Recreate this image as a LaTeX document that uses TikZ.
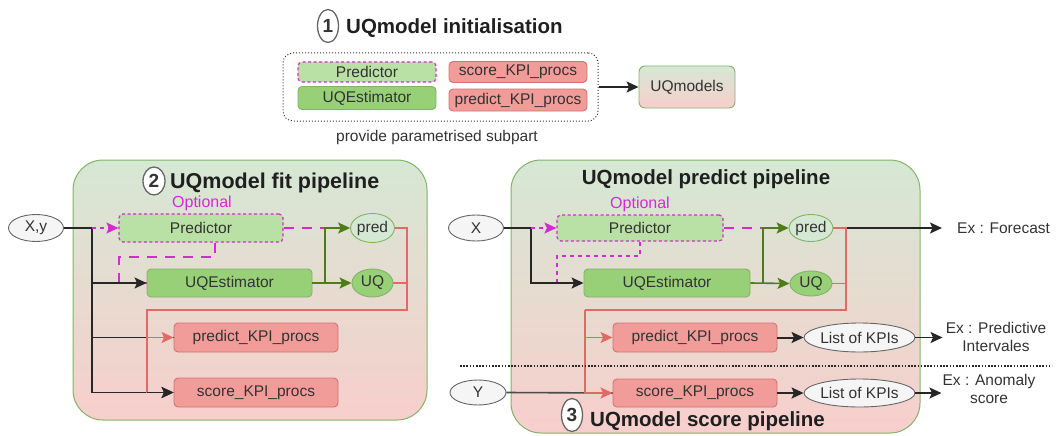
\documentclass[tikz,border=0pt]{standalone}
\usepackage{fontspec}
\setmainfont{Liberation Sans}
\usetikzlibrary{arrows.meta,shapes.geometric}

\definecolor{gfill}{HTML}{D5E8D4}
\definecolor{gline}{HTML}{82B366}
\definecolor{rfill}{HTML}{F8CECC}
\definecolor{kfill}{HTML}{F19C99}
\definecolor{kline}{HTML}{D47272}
\definecolor{pfill}{HTML}{B9E0A5}
\definecolor{ufill}{HTML}{97D077}
\definecolor{mag}{HTML}{D42AD4}
\definecolor{ofill}{HTML}{F5F5F5}
\definecolor{oline}{HTML}{666666}
\definecolor{txt}{HTML}{333333}
\definecolor{dgreen}{HTML}{4D7C19}
\definecolor{rline}{HTML}{E06A66}

\begin{document}
\begin{tikzpicture}[x=1pt,y=-1pt,
  nodefont/.style={font=\fontsize{15.5pt}{18pt}\selectfont},
  lbl/.style={nodefont, text=txt, inner sep=0pt},
  ttl/.style={font=\fontsize{20.5pt}{24pt}\selectfont\bfseries, text=black!88, inner sep=0pt},
  blockbase/.style={rectangle, rounded corners=4pt, line width=0.9pt, inner sep=0pt, nodefont, text=txt},
  predictorbox/.style={blockbase, fill=pfill, draw=mag, dash pattern=on 3pt off 2.5pt, line width=1.2pt},
  estbox/.style={blockbase, fill=ufill, draw=gline},
  kpibox/.style={blockbase, fill=kfill, draw=kline},
  oval/.style={ellipse, inner sep=0pt, line width=0.9pt, nodefont, text=txt},
  inoval/.style={oval, fill=ofill, draw=oline},
  predoval/.style={oval, fill=gfill, draw=gline},
  uqoval/.style={oval, fill=ufill, draw=gline},
  pipe/.style={rectangle, rounded corners=30pt, draw=gline, line width=1pt, top color=gfill, bottom color=rfill, inner sep=0pt},
  num/.style={ellipse, draw=oline, line width=1.3pt, fill=white, inner sep=0pt, font=\fontsize{19pt}{22pt}\selectfont\bfseries, text=black!80},
  arrowtip/.style={-{Stealth[length=12pt,width=11pt,inset=2.5pt]}},
  blk/.style={draw=black!85, line width=1.6pt},
  grn/.style={draw=dgreen, line width=1.6pt},
  redl/.style={draw=rline, line width=1.3pt},
  magshort/.style={draw=mag, line width=1.6pt, dash pattern=on 4pt off 4pt},
  maglong/.style={draw=mag, line width=1.6pt, dash pattern=on 10pt off 8pt},
  sep/.style={draw=black!85, line width=2pt, dash pattern=on 1.6pt off 1.6pt},
]
\useasboundingbox (0,0) rectangle (1057,436);

% ---------- initialisation ----------
\node[num, minimum width=21, minimum height=33] (n1) at (328,26) {1};
\node[ttl, anchor=west] (t1) at (346,28) {UQmodel initialisation};
\node[draw=black!80, dotted, line width=1pt, rounded corners=10pt,
      minimum width=315, minimum height=68] (initbox) at (440.5,87) {};
\node[predictorbox, minimum width=138, minimum height=20] (iPred) at (367,72) {Predictor};
\node[estbox, minimum width=138, minimum height=23] (iUQE) at (367,98) {UQEstimator};
\node[kpibox, minimum width=138, minimum height=21] (iScore) at (518,72) {score\_KPI\_procs};
\node[kpibox, minimum width=138, minimum height=22] (iPKPI) at (518,100) {predict\_KPI\_procs};
\node[blockbase, rounded corners=6pt, draw=gline, top color=gfill, bottom color=rfill,
      minimum width=96, minimum height=42] (uqm) at (687,87) {UQmodels};
\draw[blk, arrowtip] (initbox.east) -- (uqm.west);
\node[lbl] (sub) at (437,137) {provide parametrised subpart};

% ---------- fit pipeline ----------
\node[pipe, minimum width=354, minimum height=260] (fitbox) at (250,290) {};
\node[num, minimum width=22, minimum height=28] (n2) at (154,181) {2};
\node[ttl, font=\fontsize{21.5pt}{25pt}\selectfont\bfseries, anchor=west] (t2) at (170,183) {UQmodel fit pipeline};
\node[lbl, text=mag, font=\fontsize{16pt}{19pt}\selectfont] (fopt) at (202,203) {Optional};
\node[inoval, minimum width=55, minimum height=27] (fX) at (36,228) {X,y};
\node[predictorbox, minimum width=164, minimum height=28] (fPred) at (201,228) {Predictor};
\node[estbox, minimum width=165, minimum height=28] (fUQE) at (229.5,283) {UQEstimator};
\node[predoval, minimum width=41, minimum height=29] (fpo) at (372.5,228) {pred};
\node[uqoval, minimum width=41, minimum height=28] (fuq) at (372.5,283) {UQ};
\node[kpibox, minimum width=164, minimum height=29] (fpK) at (256,337.5) {predict\_KPI\_procs};
\node[kpibox, minimum width=164, minimum height=29] (fsK) at (256,392.5) {score\_KPI\_procs};

\coordinate (fbj) at (92,228);
\coordinate (fgj) at (325,228);
\coordinate (fm1) at (215,257);
\coordinate (fm2) at (119,257);
\coordinate (frA) at (407,310);
\coordinate (frB) at (147,310);

% optional predictor feeding the estimator
\draw[maglong] (fPred.south -| fm1) -- (fm1) -- (fm2) |- (fUQE.west);
\draw[maglong] (fPred.east) -- (fgj);
% inputs
\draw[blk] (fX.east) -- (fbj);
\draw[blk, arrowtip] (fbj) |- (fsK.west);
\draw[blk, arrowtip] (fbj |- fUQE.west) -- (fUQE.west);
\draw[blk] (fbj |- fpK.west) -- (fpK.west);
\draw[magshort, arrowtip] (fbj) -- (fPred.west);
% estimator outputs
\draw[grn, arrowtip] (fUQE.east) -- (fuq.west);
\draw[grn, arrowtip] (fgj |- fUQE.east) -- (fgj) -- (fpo.west);
% outputs routed to the KPI procs
\draw[redl] (fpo.east) -| (frA) -- (frB) -- (frB |- fsK.west) -- (fsK.west);
\draw[redl] (fuq.east) -- (fuq.east -| frA);
\draw[redl, arrowtip] (frB |- fpK.west) -- (fpK.west);
\draw[blk, arrowtip] (frB |- fsK.west) -- (fsK.west);

% ---------- predict / score pipeline ----------
\node[pipe, minimum width=409, minimum height=273] (predbox) at (715.5,296.5) {};
\node[ttl] (t3) at (706,179) {UQmodel predict pipeline};
\node[lbl, text=mag, font=\fontsize{16pt}{19pt}\selectfont] (popt) at (640,204) {Optional};
\node[inoval, minimum width=55, minimum height=26] (pX) at (476,228) {X};
\node[predictorbox, minimum width=166, minimum height=26] (pPred) at (640,228) {Predictor};
\node[estbox, minimum width=166, minimum height=28] (pUQE) at (667,283) {UQEstimator};
\node[predoval, minimum width=42, minimum height=27] (ppo) at (811,228) {pred};
\node[uqoval, minimum width=42, minimum height=25] (puq) at (811,283.5) {UQ};
\node[kpibox, minimum width=164, minimum height=29] (ppK) at (695,337.5) {predict\_KPI\_procs};
\node[kpibox, minimum width=164, minimum height=28] (psK) at (695,393) {score\_KPI\_procs};
\node[inoval, minimum width=111, minimum height=29] (l1) at (859.5,337.5) {List of KPIs};
\node[inoval, minimum width=111, minimum height=28] (l2) at (859.5,393) {List of KPIs};
\node[inoval, minimum width=56, minimum height=25] (pY) at (478,392.5) {Y};
\node[lbl, anchor=west] (fc) at (957,228) {Ex : Forecast};
\node[lbl, align=center] (pi) at (996,337) {Ex : Predictive\\Intervales};
\node[lbl, align=center] (an) at (989,389) {Ex : Anomaly\\score};
\node[num, minimum width=21, minimum height=33] (n3) at (572,415) {3};
\node[ttl, anchor=west] (t4) at (590,421) {UQmodel score pipeline};

\coordinate (pbj) at (531,228);
\coordinate (pgj) at (763,228);
\coordinate (pm1) at (640,256);
\coordinate (pm2) at (557,256);
\coordinate (prA) at (846,310);
\coordinate (prB) at (585,310);
\coordinate (sepL) at (460,366);
\coordinate (sepR) at (1052,366);

% optional predictor feeding the estimator
\draw[magshort] (pPred.south -| pm1) -- (pm1) -- (pm2) |- (pUQE.west);
\draw[maglong] (pPred.east) -- (pgj);
% inputs
\draw[blk] (pX.east) -- (pbj);
\draw[blk, arrowtip] (pbj) |- (pUQE.west);
\draw[magshort, arrowtip] (pbj) -- (pPred.west);
\draw[blk, draw=black!70] (pY.east) -- (psK.west);
% estimator outputs
\draw[grn, arrowtip] (pUQE.east) -- (puq.west);
\draw[grn, arrowtip] (pgj |- pUQE.east) -- (pgj) -- (ppo.west);
% forecast output
\draw[blk, arrowtip] (ppo.east) -- ([xshift=-15pt]fc.west);
% outputs routed to the KPI procs
\draw[redl] (ppo.east) -| (prA) -- (prB);
\draw[redl] (puq.east) -- (puq.east -| prA);
\draw[redl, arrowtip] (prB) |- (psK.west);
\draw[redl, arrowtip] (prB |- ppK.west) -- (ppK.west);
% KPI results
\draw[blk, line width=2pt, arrowtip] (ppK.east) -- (l1.west);
\draw[blk, line width=2pt, arrowtip] (psK.east) -- (l2.west);
\draw[blk, arrowtip] (l1.east) -- ([xshift=-3pt]pi.west |- l1.east);
\draw[blk, arrowtip] (l2.east) -- ([xshift=-1pt]an.west |- l2.east);

% fit / score separation
\draw[sep] (sepL) -- (sepR);
\end{tikzpicture}
\end{document}
